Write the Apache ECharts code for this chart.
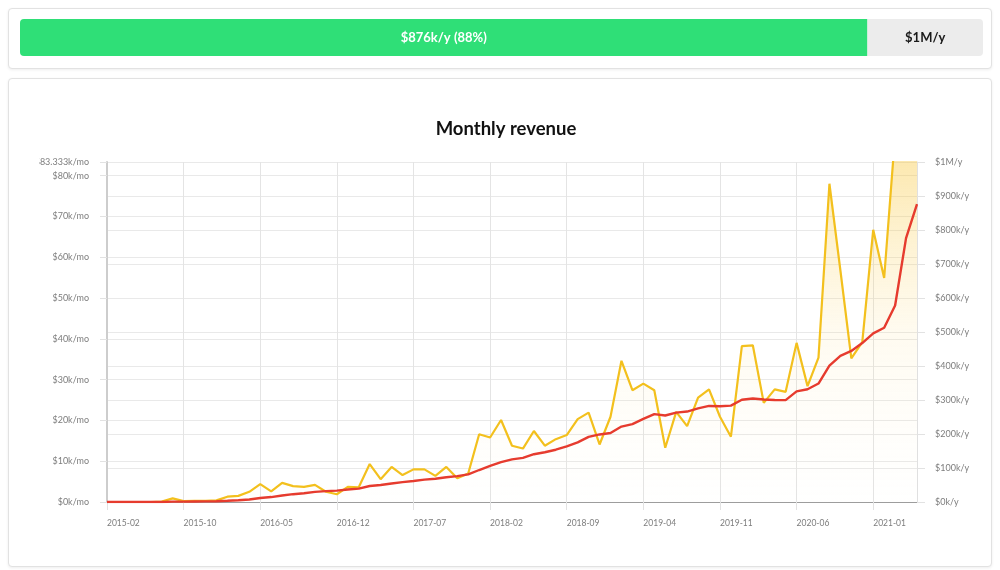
<!DOCTYPE html>
<html><head><meta charset="utf-8">
<script src="https://cdn.jsdelivr.net/npm/echarts@6/dist/echarts.min.js"></script>
<style>
html,body{margin:0;padding:0;background:#fff;}
.card{position:absolute;left:8px;width:982px;border:1px solid #e2e2e2;border-radius:4px;box-shadow:0 1px 3px rgba(0,0,0,0.07);background:#fff;}
#c1{top:8px;height:59px;}
#c2{top:78px;height:487px;}
#bar{position:absolute;left:0;top:0;width:1000px;height:76px;}
#chart{position:absolute;left:39px;top:78px;width:953px;height:488px;overflow:hidden;}
</style>
</head><body>
<div class="card" id="c1"></div>
<div class="card" id="c2"></div>
<div id="bar"></div>
<div id="chart"></div>
<script>
// Categories (month labels), one per data point
const categories = [
 '2015-02','2015-04','2015-05','2015-06','2015-07','2015-08','2015-09','2015-10','2015-11','2015-12',
 '2016-01','2016-02','2016-03','2016-04','2016-05','2016-06','2016-07','2016-08','2016-09','2016-10','2016-11','2016-12',
 '2017-01','2017-02','2017-03','2017-04','2017-05','2017-06','2017-07','2017-08','2017-09','2017-10','2017-11','2017-12',
 '2018-01','2018-02','2018-03','2018-04','2018-05','2018-06','2018-07','2018-08','2018-09','2018-10','2018-11','2018-12',
 '2019-01','2019-02','2019-03','2019-04','2019-05','2019-06','2019-07','2019-08','2019-09','2019-10','2019-11','2019-12',
 '2020-01','2020-02','2020-03','2020-04','2020-05','2020-06','2020-07','2020-08','2020-09','2020-10','2020-11','2020-12',
 '2021-01','2021-02','2021-03','2021-04','2021-05'
];
// Monthly revenue, $k per month (yellow)
const monthlyRevenue = [
 0,0,0,0,0,0.1,0.9,0.2,0.3,0.3,
 0.4,1.3,1.5,2.5,4.4,2.6,4.7,3.9,3.7,4.2,2.5,1.9,
 3.7,3.6,9.3,5.6,8.6,6.6,8.0,8.0,6.4,8.6,5.8,7.0,
 16.6,15.8,20.1,13.8,13.1,17.4,13.8,15.4,16.4,20.3,21.9,14.1,
 20.9,34.6,27.4,29.0,27.4,13.3,22.1,18.6,25.6,27.6,20.9,16.0,
 38.2,38.4,24.3,27.6,27.0,39.0,28.4,35.4,78.0,56.8,35.2,39.2,
 66.7,54.9,90,225,125
];
// Trailing twelve-month revenue, $k per year (red)
const trailingYear = [
 0,0,0,0,0,0.1,1.0,1.2,1.5,1.8,
 2.2,3.5,5.0,7.5,11.9,14.5,19.2,23.0,25.8,29.8,32.0,33.6,
 36.9,39.2,47.0,50.1,54.3,58.3,61.6,65.7,68.4,72.8,76.1,81.2,
 94.1,106.3,117.1,125.3,129.8,140.6,146.4,153.8,163.8,175.5,191.6,198.7,
 203.0,221.8,229.1,244.3,258.6,254.5,262.8,266.0,275.2,282.5,281.5,283.4,
 300.7,304.5,301.4,300.0,299.6,325.3,331.6,348.4,400.8,430.0,444.3,467.5,
 496.0,512.5,578,776,876
];
// Goal / progress ($k per year)
const currentRunRate = 876;
const goalRunRate = 1000;
const leftTicks = {interval: 10};
const rightTicks = {interval: 100};

const pct = Math.round(currentRunRate / goalRunRate * 100);
const FONT = 'Lato';
const labelColor = '#7d7d7d';
const gridColor = '#e9e9e9';

// Progress bar
const bar = echarts.init(document.getElementById('bar'), null, {renderer:'canvas'});
bar.setOption({
  animation: false,
  backgroundColor: 'transparent',
  grid: {left: 20, right: 17, top: 19, height: 37, outerBoundsMode: 'none'},
  xAxis: {type: 'value', min: 0, max: 100, show: false},
  yAxis: {type: 'category', data: ['run rate'], show: false},
  series: [
    {
      type: 'bar', stack: 'p', barWidth: '100%', data: [pct], silent: true,
      itemStyle: {color: '#2fdf77', borderRadius: [4, 0, 0, 4]},
      label: {show: true, position: 'inside', color: '#fff', fontFamily: FONT, fontSize: 13, fontWeight: 'bold',
        formatter: () => '$' + currentRunRate + 'k/y (' + pct + '%)'}
    },
    {
      type: 'bar', stack: 'p', barWidth: '100%', data: [100 - pct], silent: true,
      itemStyle: {color: '#ececec', borderRadius: [0, 4, 4, 0]},
      label: {show: true, position: 'inside', color: '#1a1a1a', fontFamily: FONT, fontSize: 13, fontWeight: 'bold',
        formatter: () => '$' + (goalRunRate / 1000) + 'M/y'}
    }
  ]
});

// Main chart (container offset: left 39, top 78)
const OX = 39, OY = 78;
const chart = echarts.init(document.getElementById('chart'), null, {renderer:'canvas'});
chart.setOption({
  animation: false,
  backgroundColor: 'transparent',
  title: {
    text: 'Monthly revenue', left: 501 - OX, textAlign: 'center', top: 115 - OY,
    textStyle: {fontFamily: FONT, fontWeight: 'bold', fontSize: 18.5, color: '#111'}
  },
  grid: {left: 107 - OX, right: (OX + 953) - 917, top: 162 - OY, bottom: (OY + 488) - 502, outerBoundsMode: 'none', containLabel: false},
  xAxis: {
    type: 'category', data: categories, boundaryGap: false,
    axisLine: {lineStyle: {color: '#9d9d9d', width: 1}},
    axisTick: {show: true, interval: 6, length: 8, lineStyle: {color: '#e2e2e2'}},
    axisLabel: {interval: 6, align: 'left', margin: 17, color: labelColor, fontSize: 8.5, fontFamily: FONT},
    splitLine: {show: true, interval: 6, lineStyle: {color: '#e4e4e4'}}
  },
  yAxis: [
    {
      type: 'value', position: 'left', min: 0, max: goalRunRate / 12, interval: leftTicks.interval,
      axisLine: {show: true, lineStyle: {color: '#cdcdcd', width: 2}},
      axisTick: {show: true, length: 7, lineStyle: {color: '#e2e2e2'}},
      axisLabel: {margin: 18, color: labelColor, fontSize: 9, fontFamily: FONT,
        formatter: v => '$' + (+v.toFixed(3)) + 'k/mo'},
      splitLine: {show: true, lineStyle: {color: gridColor}}
    },
    {
      type: 'value', position: 'right', min: 0, max: goalRunRate, interval: rightTicks.interval,
      axisLine: {show: true, lineStyle: {color: '#e0e0e0', width: 1}},
      axisTick: {show: true, length: 8, lineStyle: {color: '#e2e2e2'}},
      axisLabel: {margin: 18, color: labelColor, fontSize: 9, fontFamily: FONT,
        formatter: v => v >= 1000 ? '$' + (v / 1000) + 'M/y' : '$' + v + 'k/y'},
      splitLine: {show: true, lineStyle: {color: gridColor}}
    }
  ],
  series: [
    {
      name: 'Monthly revenue', type: 'line', yAxisIndex: 0,
      data: monthlyRevenue, symbol: 'none', z: 3,
      lineStyle: {color: '#f3c01d', width: 2.2},
      areaStyle: {
        color: {
          type: 'linear', x: 0, y: 162 - OY, x2: 0, y2: 502 - OY, global: true,
          colorStops: [
            {offset: 0, color: 'rgba(248,196,50,0.55)'},
            {offset: 0.5, color: 'rgba(252,215,110,0.15)'},
            {offset: 1, color: 'rgba(255,240,200,0.02)'}
          ]
        }
      }
    },
    {
      name: 'Trailing year', type: 'line', yAxisIndex: 1,
      data: trailingYear, symbol: 'none', z: 4,
      lineStyle: {color: '#e63b2e', width: 2.4}
    }
  ]
});
</script>
</body></html>
